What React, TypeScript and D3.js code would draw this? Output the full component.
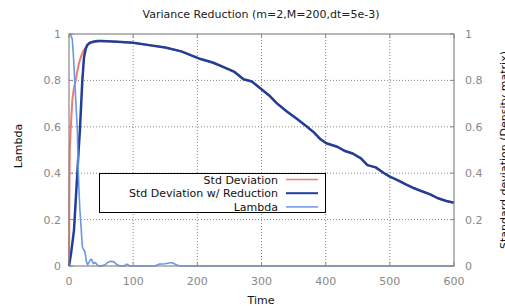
import React, { useEffect, useRef } from 'react';
import * as d3 from 'd3';

// time points + values
const stdTime = [0, 0.6, 1.2, 2.6, 5.2, 7.8, 10.4, 13, 15.6, 19, 23, 27, 31, 36, 42, 50, 60, 75];
const stdValues = [0, 0.35, 0.5, 0.59, 0.716, 0.77, 0.8, 0.84, 0.875, 0.905, 0.93, 0.945, 0.958, 0.963, 0.967, 0.97, 0.969, 0.967];

const redTime = [0, 3, 7.8, 10, 13, 15, 17, 19, 20.8, 23.4, 26, 28.6, 33, 39, 45, 50, 60, 75];
const redValues = [0, 0.05, 0.155, 0.26, 0.4, 0.5, 0.586, 0.7, 0.8, 0.9, 0.935, 0.953, 0.963, 0.968, 0.97, 0.97, 0.969, 0.967];

// the two std curves overlap from here on
const tailTime = [100, 125, 150, 175, 205, 225, 240, 257, 272, 285, 298, 312, 324, 340, 355, 371, 382, 392, 401, 418, 429, 442, 455, 465, 478, 490, 500, 512, 525, 538, 550, 562, 575, 588, 600];
const tailValues = [0.962, 0.952, 0.942, 0.925, 0.892, 0.876, 0.858, 0.838, 0.805, 0.795, 0.766, 0.735, 0.701, 0.665, 0.635, 0.6, 0.575, 0.546, 0.529, 0.514, 0.497, 0.485, 0.464, 0.435, 0.425, 0.402, 0.385, 0.37, 0.352, 0.335, 0.322, 0.31, 0.292, 0.28, 0.273];

const lambdaTime = [0, 2, 3.5, 5.2, 7, 8.9, 11, 13, 14, 15.5, 17, 19, 20.8, 23, 25, 27, 29, 32, 35, 38, 41, 45, 50, 56, 60, 65, 70, 75, 80, 86, 90, 95, 100, 120, 134, 140, 150, 160, 169, 175, 200, 600];
const lambdaValues = [1, 1, 0.99, 0.975, 0.9, 0.8, 0.69, 0.586, 0.45, 0.33, 0.24, 0.16, 0.083, 0.07, 0.06, 0.02, 0.005, 0.02, 0.03, 0.01, 0.015, 0.002, 0, 0.005, 0.015, 0.02, 0.018, 0.005, 0, 0, 0.008, 0, 0, 0, 0, 0.008, 0.01, 0.015, 0.003, 0, 0, 0];

const xTicks = [0, 100, 200, 300, 400, 500, 600];
const yTicks = [0, 0.2, 0.4, 0.6, 0.8, 1];

const legendLabels = ['Std Deviation', 'Std Deviation w/ Reduction', 'Lambda'];
const colors = ['#f07a6e', '#1f3f99', '#6b96e8'];

const App = () => {
  const ref = useRef<SVGSVGElement | null>(null);

  useEffect(() => {
    if (!ref.current) return;
    const svg = d3.select(ref.current);
    svg.selectAll('*').remove();

    const left = 69, right = 454, top = 34, bottom = 266;
    const x = d3.scaleLinear().domain([0, 600]).range([left, right]);
    const y = d3.scaleLinear().domain([0, 1]).range([bottom, top]);
    const font = 'DejaVu Sans, sans-serif';
    const gray = '#888';

    // grid
    svg.append('g')
      .selectAll('line')
      .data(xTicks.slice(1, -1))
      .enter().append('line')
      .attr('x1', d => x(d)).attr('x2', d => x(d))
      .attr('y1', top).attr('y2', bottom)
      .attr('stroke', gray).attr('stroke-dasharray', '1,2');
    svg.append('g')
      .selectAll('line')
      .data(yTicks.slice(1, -1))
      .enter().append('line')
      .attr('x1', left).attr('x2', right)
      .attr('y1', d => y(d)).attr('y2', d => y(d))
      .attr('stroke', gray).attr('stroke-dasharray', '1,2');

    // inward ticks
    const tk = svg.append('g').attr('stroke', gray);
    xTicks.forEach(t => {
      tk.append('line').attr('x1', x(t)).attr('x2', x(t)).attr('y1', bottom).attr('y2', bottom - 4);
      tk.append('line').attr('x1', x(t)).attr('x2', x(t)).attr('y1', top).attr('y2', top + 4);
    });
    yTicks.forEach(t => {
      tk.append('line').attr('x1', left).attr('x2', left + 4).attr('y1', y(t)).attr('y2', y(t));
      tk.append('line').attr('x1', right).attr('x2', right - 4).attr('y1', y(t)).attr('y2', y(t));
    });

    // tick labels
    svg.append('g')
      .selectAll('text')
      .data(xTicks)
      .enter().append('text')
      .attr('x', d => x(d)).attr('y', 285)
      .attr('text-anchor', 'middle')
      .style('font', `11px ${font}`).style('fill', gray)
      .text(d => String(d));
    svg.append('g')
      .selectAll('text')
      .data(yTicks)
      .enter().append('text')
      .attr('x', 61).attr('y', d => y(d) + 4)
      .attr('text-anchor', 'end')
      .style('font', `11px ${font}`).style('fill', gray)
      .text(d => String(d));
    svg.append('g')
      .selectAll('text')
      .data(yTicks)
      .enter().append('text')
      .attr('x', 465).attr('y', d => y(d) + 4)
      .attr('text-anchor', 'start')
      .style('font', `11px ${font}`).style('fill', gray)
      .text(d => String(d));

    // curves
    const line = d3.line<[number, number]>().x(d => x(d[0])).y(d => y(d[1]));
    const zip = (ts: number[], vs: number[]) => ts.map((t, i) => [t, vs[i]] as [number, number]);
    const series = [
      { pts: zip(stdTime.concat(tailTime), stdValues.concat(tailValues)), color: colors[0], w: 2 },
      { pts: zip(redTime.concat(tailTime), redValues.concat(tailValues)), color: colors[1], w: 2.5 },
      { pts: zip(lambdaTime, lambdaValues), color: colors[2], w: 1.6 },
    ];
    series.forEach(s => {
      svg.append('path')
        .attr('d', line(s.pts))
        .attr('fill', 'none')
        .attr('stroke', s.color)
        .attr('stroke-width', s.w)
        .attr('stroke-linejoin', 'round');
    });

    // frame
    svg.append('rect')
      .attr('x', left).attr('y', top)
      .attr('width', right - left).attr('height', bottom - top)
      .attr('fill', 'none').attr('stroke', gray).attr('stroke-width', 1.2);

    // legend
    const lg = svg.append('g');
    lg.append('rect')
      .attr('x', 99.5).attr('y', 173.5).attr('width', 226).attr('height', 39)
      .attr('fill', 'white').attr('stroke', 'black');
    legendLabels.forEach((lab, i) => {
      const yy = 179.5 + i * 13.7;
      lg.append('text')
        .attr('x', 278).attr('y', yy + 4)
        .attr('text-anchor', 'end')
        .style('font', `11px ${font}`).style('fill', '#111')
        .text(lab);
      lg.append('line')
        .attr('x1', 286).attr('x2', 318).attr('y1', yy).attr('y2', yy)
        .attr('stroke', colors[i]).attr('stroke-width', i === 1 ? 2 : 1.5);
    });

    // titles
    svg.append('text')
      .attr('x', 261).attr('y', 18)
      .attr('text-anchor', 'middle')
      .style('font', `11px ${font}`).style('fill', '#222')
      .text('Variance Reduction (m=2,M=200,dt=5e-3)');
    svg.append('text')
      .attr('x', 261).attr('y', 304)
      .attr('text-anchor', 'middle')
      .style('font', `11px ${font}`).style('fill', '#111')
      .text('Time');
    svg.append('text')
      .attr('transform', 'translate(22,146) rotate(-90)')
      .attr('text-anchor', 'middle')
      .style('font', `11px ${font}`).style('fill', '#111')
      .text('Lambda');
    svg.append('text')
      .attr('transform', 'translate(508,150) rotate(-90)')
      .attr('text-anchor', 'middle')
      .style('font', `11px ${font}`).style('fill', '#111')
      .text('Standard deviation (Density matrix)');
  }, []);

  return (
    <svg
      ref={ref}
      width={505}
      height={307}
      style={{ position: 'absolute', left: 0, top: 0, background: 'white' }}
    />
  );
};

export default App;
